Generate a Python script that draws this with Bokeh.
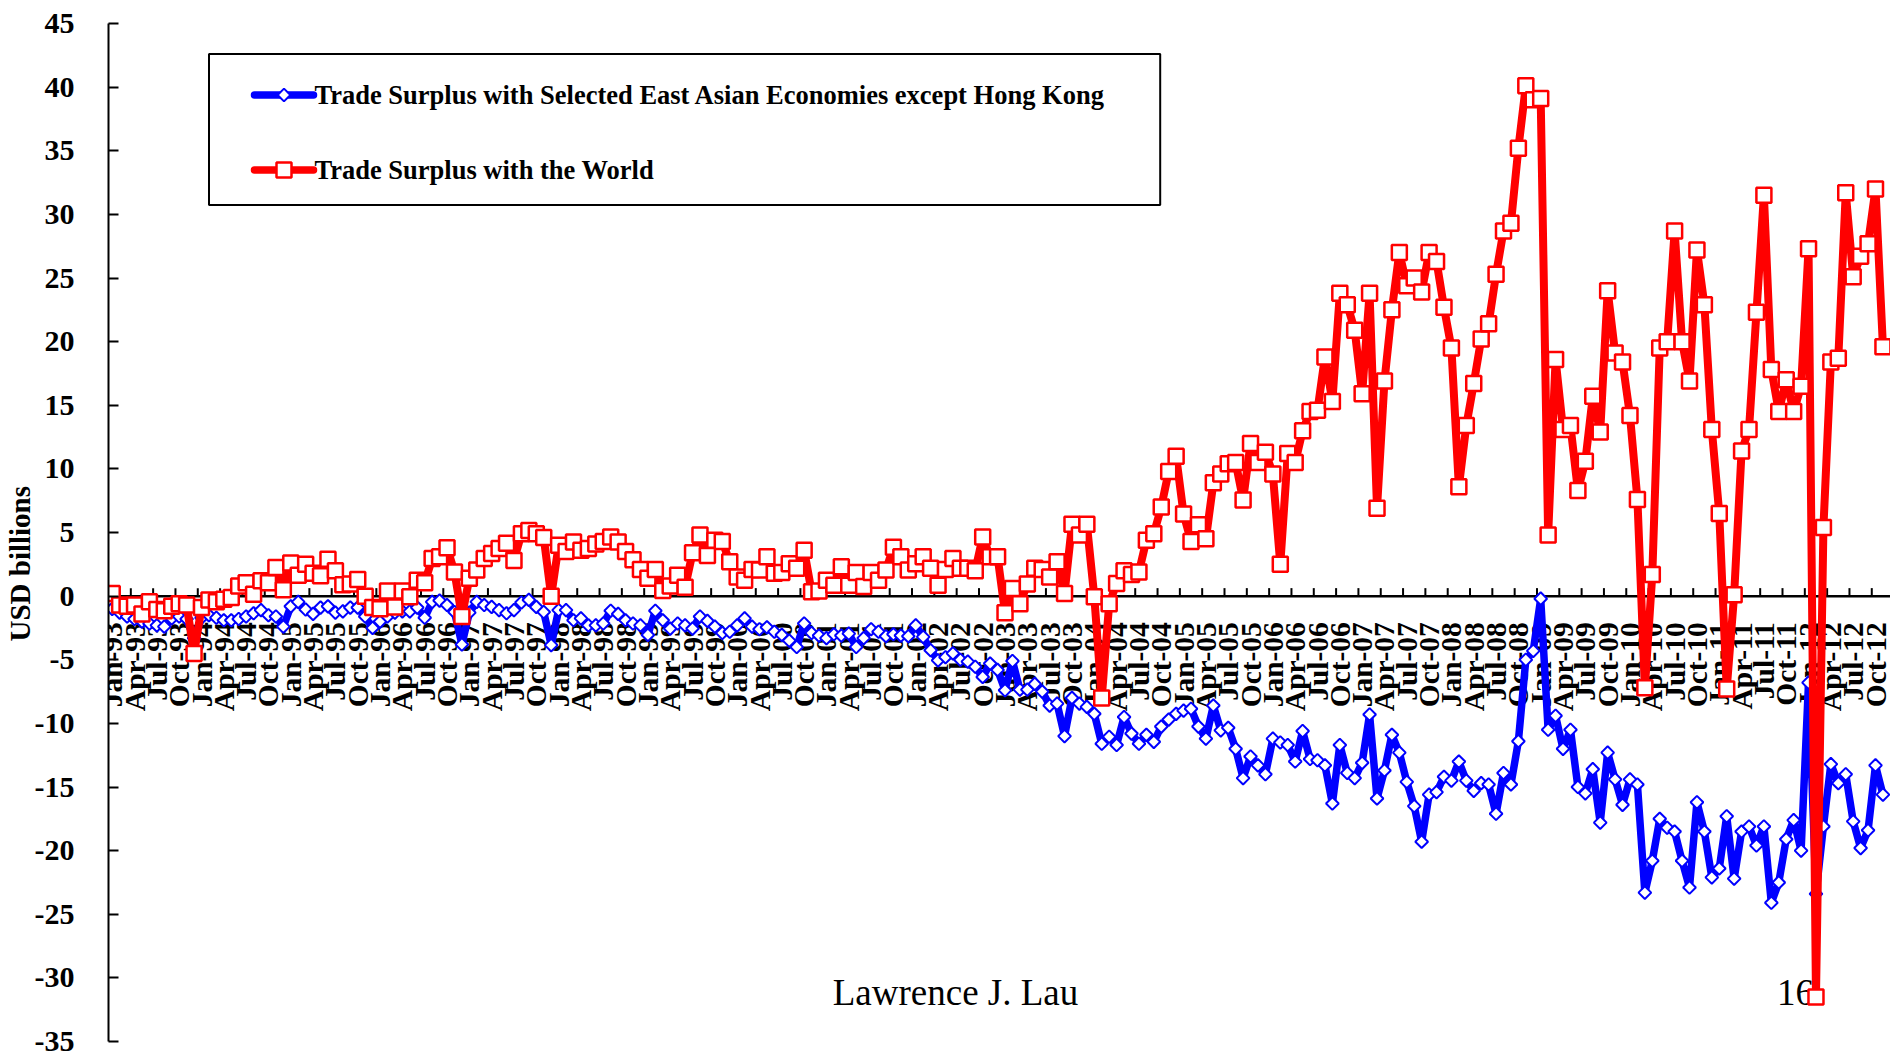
import numpy as np
from bokeh.plotting import figure
from bokeh.models import Range1d, FixedTicker, Span, Title
from bokeh.core.properties import value
from bokeh.embed import file_html
from bokeh.resources import INLINE

# ---------------- data (USD billions, monthly Jan-93 .. Nov-12) ----------------
years = list(range(1993, 2013))
months = ["Jan", "Feb", "Mar", "Apr", "May", "Jun", "Jul", "Aug", "Sep", "Oct", "Nov", "Dec"]
periods = [f"{m}-{str(y)[2:]}" for y in years for m in months][:239]

world_1993 = [0.2, -0.7, -0.8, -0.7, -1.4, -0.45, -1.05, -1.15, -0.8, -0.6, -0.7, -4.5]
world_1994 = [-0.9, -0.3, -0.45, -0.25, -0.1, 0.8, 1.05, 0.15, 1.2, 1.05, 2.25, 0.5]
world_1995 = [2.6, 1.65, 2.5, 1.8, 1.6, 2.9, 2.0, 0.9, 0.95, 1.3, 0.0, -0.9]
world_1996 = [-1.0, 0.4, -0.85, 0.4, -0.05, 1.25, 1.05, 2.95, 3.1, 3.8, 1.9, -1.6]
world_1997 = [1.4, 2.05, 2.95, 3.35, 3.75, 4.15, 2.8, 4.9, 5.15, 4.9, 4.6, 0.0]
world_1998 = [4.0, 3.5, 4.25, 3.6, 3.75, 4.1, 4.3, 4.65, 4.25, 3.5, 2.85, 2.1]
world_1999 = [1.4, 2.1, 0.45, 0.8, 1.65, 0.7, 3.4, 4.8, 3.2, 4.4, 4.3, 2.7]
world_2000 = [1.5, 1.25, 2.1, 2.05, 3.1, 1.8, 1.85, 2.55, 2.2, 3.6, 0.35, 0.4]
world_2001 = [1.25, 0.85, 2.3, 0.85, 1.85, 0.75, 1.85, 1.25, 2.05, 3.85, 3.1, 2.05]
world_2002 = [2.55, 3.1, 2.2, 0.85, 2.1, 2.95, 2.2, 2.2, 2.0, 4.65, 3.1, 3.1]
world_2003 = [-1.3, 0.6, -0.6, 0.95, 2.2, 2.1, 1.5, 2.7, 0.2, 5.65, 4.8, 5.65]
world_2004 = [-0.05, -8.0, -0.6, 1.0, 2.0, 1.7, 1.9, 4.4, 4.9, 7.0, 9.8, 11.0]
world_2005 = [6.45, 4.3, 5.6, 4.5, 8.9, 9.6, 10.4, 10.5, 7.55, 12.0, 10.5, 11.3]
world_2006 = [9.6, 2.5, 11.2, 10.5, 13.0, 14.5, 14.6, 18.8, 15.3, 23.8, 22.9, 20.9]
world_2007 = [15.9, 23.8, 6.9, 16.9, 22.5, 27.0, 24.4, 25.0, 23.9, 27.0, 26.3, 22.7]
world_2008 = [19.5, 8.6, 13.4, 16.7, 20.2, 21.4, 25.3, 28.7, 29.3, 35.2, 40.1, 39.0]
world_2009 = [39.1, 4.8, 18.6, 13.1, 13.4, 8.3, 10.6, 15.7, 12.9, 24.0, 19.1, 18.4]
world_2010 = [14.2, 7.6, -7.2, 1.7, 19.5, 20.0, 28.7, 20.0, 16.9, 27.2, 22.9, 13.1]
world_2011 = [6.5, -7.3, 0.1, 11.4, 13.1, 22.3, 31.5, 17.8, 14.5, 17.0, 14.5, 16.5]
world_2012 = [27.3, -31.5, 5.4, 18.4, 18.7, 31.7, 25.1, 26.7, 27.7, 32.0, 19.6]

east_1993 = [-1.0, -1.3, -1.6, -1.8, -2.0, -2.15, -2.3, -2.4, -1.75, -1.6, -1.8, -3.3]
east_1994 = [-1.7, -1.5, -1.7, -1.9, -1.9, -1.8, -1.6, -1.35, -1.1, -1.5, -1.6, -2.4]
east_1995 = [-0.8, -0.45, -1.05, -1.4, -0.9, -0.8, -1.3, -1.2, -0.9, -0.9, -1.6, -2.5]
east_1996 = [-2.0, -1.6, -1.3, -1.2, -1.2, -0.9, -1.7, -0.45, -0.35, -0.7, -1.25, -3.8]
east_1997 = [-1.3, -0.45, -0.7, -0.85, -1.1, -1.35, -1.1, -0.5, -0.3, -0.85, -1.25, -3.85]
east_1998 = [-1.1, -1.1, -1.9, -1.75, -2.3, -2.3, -2.15, -1.15, -1.4, -1.9, -2.15, -2.3]
east_1999 = [-3.05, -1.15, -1.9, -2.55, -2.15, -2.3, -2.55, -1.6, -1.95, -2.4, -2.9, -2.8]
east_2000 = [-2.3, -1.75, -2.4, -2.6, -2.45, -2.8, -3.05, -3.5, -4.0, -2.15, -2.9, -3.1]
east_2001 = [-3.3, -3.0, -3.1, -2.95, -4.0, -3.3, -2.6, -2.8, -3.15, -3.0, -3.1, -3.15]
east_2002 = [-2.3, -3.2, -4.25, -5.05, -4.8, -4.5, -5.0, -5.15, -5.55, -6.35, -5.3, -5.8]
east_2003 = [-7.4, -5.1, -7.35, -7.35, -6.9, -7.5, -8.6, -8.45, -11.0, -8.0, -8.45, -8.7]
east_2004 = [-9.25, -11.6, -11.05, -11.7, -9.5, -10.8, -11.6, -10.9, -11.45, -10.25, -9.7, -9.25]
east_2005 = [-9.0, -8.85, -10.25, -11.2, -8.6, -10.55, -10.35, -12.0, -14.3, -12.6, -13.3, -14.0]
east_2006 = [-11.2, -11.5, -11.7, -13.0, -10.6, -12.8, -12.9, -13.3, -16.3, -11.7, -13.9, -14.3]
east_2007 = [-13.1, -9.3, -15.9, -13.7, -10.9, -12.3, -14.6, -16.5, -19.3, -15.6, -15.4, -14.2]
east_2008 = [-14.5, -13.0, -14.5, -15.3, -14.7, -14.8, -17.1, -13.9, -14.8, -11.4, -5.0, -4.3]
east_2009 = [-0.2, -10.5, -9.4, -12.0, -10.5, -15.0, -15.5, -13.6, -17.8, -12.3, -14.4, -16.4]
east_2010 = [-14.4, -14.8, -23.3, -20.8, -17.5, -18.2, -18.5, -20.8, -22.9, -16.2, -18.5, -22.1]
east_2011 = [-21.4, -17.3, -22.2, -18.5, -18.1, -19.6, -18.1, -24.1, -22.5, -19.1, -17.6, -20.0]
east_2012 = [-6.8, -23.4, -18.1, -13.2, -14.7, -14.0, -17.7, -19.8, -18.4, -13.3, -15.6]

series_names = ["Trade Surplus with Selected East Asian Economies except Hong Kong",
                "Trade Surplus with the World"]
y_ticks = list(range(-35, 50, 5))
y_tick_labels = [str(t) for t in y_ticks]
y_label = "USD billions"
footer_text = "Lawrence J. Lau"
page_number = "16"

world = (world_1993 + world_1994 + world_1995 + world_1996 + world_1997 + world_1998 +
         world_1999 + world_2000 + world_2001 + world_2002 + world_2003 + world_2004 +
         world_2005 + world_2006 + world_2007 + world_2008 + world_2009 + world_2010 +
         world_2011 + world_2012)
east = (east_1993 + east_1994 + east_1995 + east_1996 + east_1997 + east_1998 +
        east_1999 + east_2000 + east_2001 + east_2002 + east_2003 + east_2004 +
        east_2005 + east_2006 + east_2007 + east_2008 + east_2009 + east_2010 +
        east_2011 + east_2012)
idx = list(range(len(periods)))
label_idx = [i for i, p in enumerate(periods) if p[:3] in ("Jan", "Apr", "Jul", "Oct")]
label_txt = [periods[i] for i in label_idx]

# ---------------- layout (canvas pixels) ----------------
W, H = 1890, 1053
FL, FT, FR, FB = 108, 23, 0, 12
STEP = 7.44
Y0, Y1 = -35, 45
PXU = (H - FT - FB) / (Y1 - Y0)
x_end = -0.5 + (W - FR - FL) / STEP


def dx(px):  # canvas px -> data x
    return -0.5 + (px - FL) / STEP


def dy(py):  # canvas px -> data y
    return Y1 - (py - FT) / PXU


SERIF = value("Liberation Serif")
RED, BLUE = "#FF0000", "#0000FF"

p = figure(width=W, height=H, x_range=Range1d(-0.5, x_end), y_range=Range1d(Y0, Y1),
           output_backend="svg", toolbar_location=None, x_axis_type=None,
           min_border_left=FL, min_border_right=FR, min_border_top=FT, min_border_bottom=FB)
p.grid.visible = False
p.outline_line_color = None
p.background_fill_color = "white"
p.border_fill_color = "white"

ya = p.yaxis[0]
ya.ticker = FixedTicker(ticks=y_ticks)
ya.major_label_overrides = dict(zip(y_ticks, y_tick_labels))
ya.major_tick_in = 10
ya.major_tick_out = 0
ya.minor_tick_in = 0
ya.minor_tick_out = 0
ya.axis_line_width = 2
ya.major_tick_line_width = 2
ya.axis_line_color = "black"
ya.major_label_standoff = 34
ya.major_label_text_font = "Liberation Serif"
ya.major_label_text_font_style = "bold"
ya.major_label_text_font_size = "30px"
ya.major_label_text_color = "black"

p.add_layout(Title(text=y_label, align="left", offset=400, standoff=-8,
                   text_font="Liberation Serif", text_font_style="bold",
                   text_font_size="29px", text_color="black"), "left")

# footer texts (under the series)
p.text(x=[dx(955)], y=[dy(992)], text=[footer_text], text_font=SERIF, text_font_size="37px",
       text_align="center", text_baseline="middle", text_color="black")
p.text(x=[dx(1795)], y=[dy(992)], text=[page_number], text_font=SERIF, text_font_size="37px",
       text_align="center", text_baseline="middle", text_color="black")

# category axis at y = 0
p.add_layout(Span(location=0, dimension="width", line_color="black", line_width=2.5, level="underlay"))
tick_pos = [i - 0.5 for i in label_idx]
p.segment(x0=tick_pos, y0=[0] * len(tick_pos), x1=tick_pos, y1=[8 / PXU] * len(tick_pos),
          line_color="black", line_width=2)
p.text(x=label_idx, y=[-26 / PXU] * len(label_idx), text=label_txt, angle=np.pi / 2,
       text_align="right", text_baseline="middle",
       text_font=SERIF, text_font_style="bold", text_font_size="29.5px", text_color="black")

# series
p.line(idx, east, line_color=BLUE, line_width=7.5, line_join="round")
p.scatter(idx, east, marker="square", angle=np.pi / 4, size=9, fill_color="white",
          line_color=BLUE, line_width=2)
p.line(idx, world, line_color=RED, line_width=8, line_join="round")
p.scatter(idx, world, marker="square", size=15, fill_color="white", line_color=RED, line_width=2.5)

# legend (drawn manually to match the boxed layout)
p.quad(left=[dx(208.5)], right=[dx(1159.7)], top=[dy(53.4)], bottom=[dy(204.5)],
       fill_color="white", line_color="black", line_width=2)
rows = [(94.5, BLUE, "blue"), (169.4, RED, "red")]
for (ry, col, kind), name in zip(rows, series_names):
    p.line([dx(254), dx(313)], [dy(ry), dy(ry)], line_color=col, line_width=7.5, line_cap="round")
    if kind == "blue":
        p.scatter([dx(283.5)], [dy(ry)], marker="square", angle=np.pi / 4, size=9,
                  fill_color="white", line_color=col, line_width=2)
    else:
        p.scatter([dx(283.5)], [dy(ry)], marker="square", size=15,
                  fill_color="white", line_color=col, line_width=2.5)
    p.text(x=[dx(314)], y=[dy(ry)], text=[name], text_font=SERIF, text_font_style="bold",
           text_font_size="26.5px", text_align="left", text_baseline="middle", text_color="black")

open("out.html", "w").write(file_html(p, INLINE))
